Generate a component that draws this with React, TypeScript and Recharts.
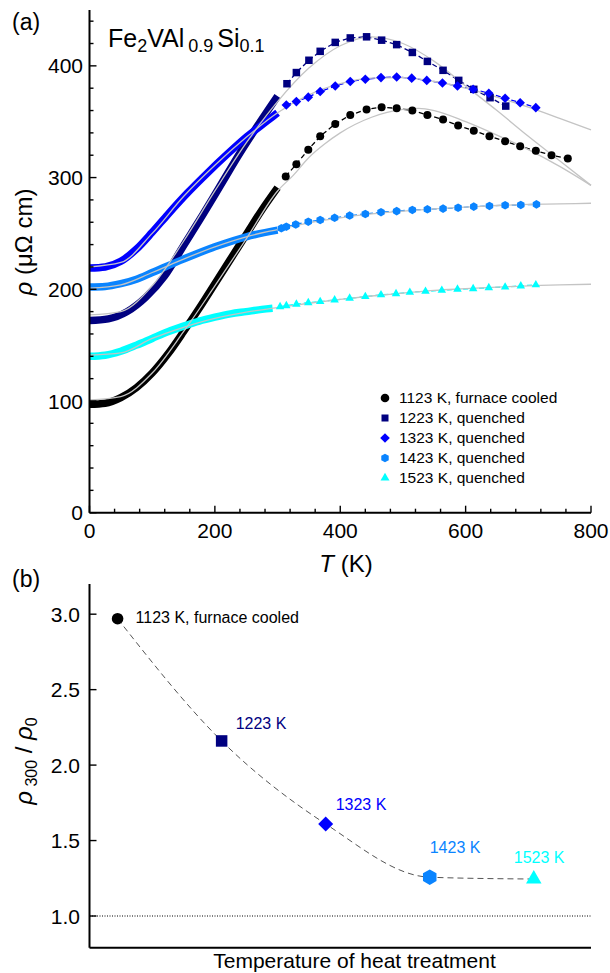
import React from "react";
import { ComposedChart, Line, Scatter, XAxis, YAxis, Legend, ReferenceLine, Label } from "recharts";

// panel (a): dense low-T data (drawn as thick bands), [T (K), rho (µΩ cm)]
const band1123 = [[0, 97], [25, 98], [50, 103], [75, 112], [100, 125], [125, 142], [150, 162], [175, 183], [200, 205], [225, 227], [250, 249], [275, 271], [300, 291]];
const band1223 = [[0, 172], [30, 173.5], [60, 180], [90, 193], [120, 212], [150, 239], [180, 266], [210, 294], [240, 322], [270, 348], [300, 373]];
const band1323 = [[0, 219], [25, 220], [50, 225], [75, 236], [100, 251], [125, 267], [156, 286], [188, 304], [220, 321], [252, 337], [284, 351], [300, 358]];
const band1423 = [[0, 202], [25, 202.5], [50, 205], [75, 209], [100, 215], [150, 227], [200, 238], [250, 247], [300, 253]];
const band1523 = [[0, 140], [25, 141], [50, 144.5], [75, 150], [100, 156], [125, 162], [150, 167], [175, 171.5], [200, 175], [225, 178], [250, 180], [275, 182], [292, 183]];

// high-T points (markers + dashed line)
const pts1123 = [[313, 301], [330, 312], [349, 325], [368, 337], [392, 348], [416, 356], [442, 361], [466, 363], [490, 362], [515, 360], [539, 356], [564, 352], [588, 346.5], [613, 342], [638, 337], [663, 332.5], [687, 328], [712, 324], [737, 320], [763, 317]];
const pts1223 = [[315, 384], [330, 394], [350, 405], [368, 413], [392, 421], [416, 425], [442, 426], [466, 423], [490, 419], [515, 412], [539, 404], [564, 396], [589, 387], [613, 379], [639, 371.5], [664, 364]];
const pts1323 = [[314, 365], [330, 368], [349, 372], [368, 377], [392, 382], [416, 386], [440, 388], [465, 389.5], [490, 390], [514, 389], [538, 387], [563, 384.7], [587, 382], [612, 379], [637, 375.5], [663, 371], [687, 367], [712, 362.6]];
const pts1423 = [[306, 254.6], [314, 256], [329, 258], [349, 260.5], [368, 262], [391, 264], [415, 266], [440, 267.4], [465, 269], [490, 270], [515, 271], [539, 271.6], [564, 272.2], [588, 273], [613, 274], [638, 274.6], [663, 275.2], [688, 275.5], [713, 276]];
const pts1523 = [[304, 184.4], [314, 185.3], [330, 186.6], [349, 188], [368, 189], [391, 190.4], [415, 192], [440, 193.4], [465, 195], [489, 196], [511, 197.3], [536, 198.2], [562, 199], [587, 200], [612, 200.5], [637, 201.4], [663, 202], [688, 203], [712, 204]];

// fitted curves (thin grey)
const fit1123 = [[0, 101], [50, 104], [100, 125], [150, 162], [200, 203], [250, 245], [300, 288], [325, 302], [350, 318], [375, 330], [400, 340], [450, 354], [500, 361], [525, 362], [550, 360], [600, 350], [650, 338], [700, 325], [750, 310], [800, 293]];
const fit1223 = [[0, 177], [50, 180], [100, 203], [150, 243], [200, 288], [250, 331], [300, 368], [350, 398], [400, 418], [450, 426], [500, 420], [550, 404], [600, 382], [650, 360], [700, 337], [750, 315], [800, 293]];
const fit1323 = [[0, 220], [50, 224], [100, 250], [150, 283], [200, 311], [250, 336], [300, 358], [350, 374], [400, 384], [450, 389], [500, 389.5], [550, 386], [600, 380], [650, 372], [700, 363], [750, 353], [800, 342.6]];
const fit1423 = [[0, 201], [50, 204], [100, 215], [150, 227], [200, 238], [250, 247], [300, 253.5], [350, 259.5], [400, 264], [450, 267.5], [500, 270], [550, 272], [600, 273.5], [650, 275], [700, 276], [750, 276.5], [800, 277]];
const fit1523 = [[0, 141], [50, 143], [100, 156], [150, 166], [200, 174], [250, 179.5], [300, 183.5], [350, 187.5], [400, 191], [450, 194], [500, 196.5], [550, 199], [600, 200.5], [650, 202], [700, 203], [750, 204], [800, 204.5]];

const legendLabels = ["1123 K, furnace cooled", "1223 K, quenched", "1323 K, quenched", "1423 K, quenched", "1523 K, quenched"];
const xTicksA = [0, 40, 80, 120, 160, 200, 240, 280, 320, 360, 400, 440, 480, 520, 560, 600, 640, 680, 720, 760, 800];
const yTicksA = [0, 20, 40, 60, 80, 100, 120, 140, 160, 180, 200, 220, 240, 260, 280, 300, 320, 340, 360, 380, 400, 420, 440];

// panel (b)
const heatTemps = [1123, 1223, 1323, 1423, 1523];
const ratio300 = [2.97, 2.16, 1.61, 1.257, 1.245];
const pointLabels = ["1123 K, furnace cooled", "1223 K", "1323 K", "1423 K", "1523 K"];
const yTicksB = [1, 1.5, 2, 2.5, 3];

const colors = ["#000000", "#000080", "#0000ff", "#0a84ff", "#00ffff"];
const shapes = ["circle", "square", "diamond", "hexagon", "triangle"];

const FONT = "'Liberation Sans', Arial, Helvetica, sans-serif";
const PL = 89.5;
const BOT_A = 512.7;
const B_TOP = 574;

const toPts = (a: number[][]) => a.map(([T, r]) => ({ T, r }));
const bands = [band1123, band1223, band1323, band1423, band1523].map(toPts);
const points = [pts1123, pts1223, pts1323, pts1423, pts1523].map(toPts);
const fits = [fit1123, fit1223, fit1323, fit1423, fit1523].map(toPts);
const ratioPts = heatTemps.map((T, i) => ({ T, ratio: ratio300[i] }));

// marker sizes: circle r, square side, diamond half-diag, hexagon r, triangle side
const sizeA = [4, 7.5, 4.8, 4.3, 8.5];
const sizeB = [5.8, 11.5, 7.5, 7.8, 15.5];
const sizeL = [4.3, 7, 4.8, 4.3, 9];

function Marker({ shape, cx, cy, s, color }: any) {
  if (shape === "circle") return <circle cx={cx} cy={cy} r={s} fill={color} />;
  if (shape === "square") return <rect x={cx - s / 2} y={cy - s / 2} width={s} height={s} fill={color} />;
  if (shape === "diamond")
    return <polygon points={`${cx},${cy - s} ${cx + s},${cy} ${cx},${cy + s} ${cx - s},${cy}`} fill={color} />;
  if (shape === "hexagon") {
    const p = [-90, -30, 30, 90, 150, 210]
      .map((a) => `${cx + s * Math.cos((a * Math.PI) / 180)},${cy + s * Math.sin((a * Math.PI) / 180)}`)
      .join(" ");
    return <polygon points={p} fill={color} />;
  }
  const h = (s * Math.sqrt(3)) / 2;
  return <polygon points={`${cx},${cy - (2 * h) / 3} ${cx + s / 2},${cy + h / 3} ${cx - s / 2},${cy + h / 3}`} fill={color} />;
}

const XTickA = (p: any) => {
  const v = p.payload.value;
  const major = v % 200 === 0;
  return (
    <g>
      <line x1={p.x} x2={p.x} y1={BOT_A} y2={BOT_A - (major ? 7 : 4)} stroke="#000" strokeWidth={1.4} />
      {major && (
        <text x={p.x} y={BOT_A + 25.5} textAnchor="middle" fontSize={21} fontFamily={FONT} fill="#000">
          {v}
        </text>
      )}
    </g>
  );
};

const YTickA = (p: any) => {
  const v = p.payload.value;
  const major = v % 100 === 0;
  return (
    <g>
      <line x1={PL} x2={PL + (major ? 7 : 4)} y1={p.y} y2={p.y} stroke="#000" strokeWidth={1.4} />
      {major && (
        <text x={83} y={p.y} dy="0.36em" textAnchor="end" fontSize={21} fontFamily={FONT} fill="#000">
          {v}
        </text>
      )}
    </g>
  );
};

const YTickB = (p: any) => (
  <g>
    <line x1={PL} x2={PL + 7} y1={p.y} y2={p.y} stroke="#000" strokeWidth={1.4} />
    <text x={80} y={p.y} dy="0.36em" textAnchor="end" fontSize={21} fontFamily={FONT} fill="#000">
      {p.payload.value.toFixed(1)}
    </text>
  </g>
);

const axisLine = { stroke: "#000", strokeWidth: 2 };

const labelOffsets = [
  [18, -1],
  [14, -18],
  [10, -20],
  [0, -30],
  [-20, -22],
];

const renderPointB = (p: any) => {
  const i = p.index;
  return (
    <g key={`pb-${i}`}>
      <Marker shape={shapes[i]} cx={p.cx} cy={p.cy} s={sizeB[i]} color={colors[i]} />
      <text
        x={p.cx + labelOffsets[i][0]}
        y={p.cy + labelOffsets[i][1]}
        dy="0.35em"
        fontSize={16}
        fontFamily={FONT}
        fill={i === 0 ? "#000" : colors[i]}
      >
        {pointLabels[i]}
      </text>
    </g>
  );
};

const LegendBox = () => (
  <div style={{ fontFamily: FONT, fontSize: 15.5, color: "#000" }}>
    {legendLabels.map((lab, i) => (
      <div key={lab} style={{ display: "flex", alignItems: "center", height: 20 }}>
        <svg width={16} height={16}>
          <Marker shape={shapes[i]} cx={8} cy={8} s={sizeL[i]} color={colors[i]} />
        </svg>
        <span style={{ marginLeft: 6, whiteSpace: "nowrap" }}>{lab}</span>
      </div>
    ))}
  </div>
);

export default function App() {
  return (
    <div style={{ position: "absolute", left: 0, top: 0, width: 610, height: 973, background: "#fff", fontFamily: FONT }}>
      <div style={{ position: "absolute", left: 0, top: 0 }}>
        <ComposedChart width={610} height={580} margin={{ top: 10, right: 19, bottom: 0, left: 0 }}>
          <XAxis
            xAxisId="b"
            dataKey="T"
            type="number"
            domain={[0, 800]}
            ticks={xTicksA}
            interval={0}
            tick={(p: any) => <XTickA {...p} />}
            tickLine={false}
            axisLine={axisLine}
            height={67.3}
          >
            <Label
              content={() => (
                <text x={346} y={572} textAnchor="middle" fontSize={24} fontFamily={FONT} fill="#000">
                  <tspan fontStyle="italic">T</tspan> (K)
                </text>
              )}
            />
          </XAxis>
          <XAxis xAxisId="t" orientation="top" type="number" domain={[0, 800]} height={0} tick={false} tickLine={false} axisLine={axisLine} />
          <YAxis
            yAxisId="l"
            type="number"
            domain={[0, 450]}
            ticks={yTicksA}
            interval={0}
            width={PL}
            tick={(p: any) => <YTickA {...p} />}
            tickLine={false}
            axisLine={axisLine}
          >
            <Label
              content={() => (
                <text transform="translate(32,242) rotate(-90)" textAnchor="middle" fontSize={24} fontFamily={FONT} fill="#000">
                  <tspan fontStyle="italic">ρ</tspan> (μΩ cm)
                </text>
              )}
            />
          </YAxis>
          <YAxis yAxisId="r" orientation="right" type="number" domain={[0, 450]} width={0} tick={false} tickLine={false} axisLine={axisLine} />

          {bands.map((d, i) => (
            <Line
              key={`band-${i}`}
              xAxisId="b"
              yAxisId="l"
              data={d}
              dataKey="r"
              type="monotone"
              stroke={colors[i]}
              strokeWidth={7.5}
              dot={false}
              activeDot={false}
              isAnimationActive={false}
            />
          ))}
          {points.map((d, i) => (
            <Line
              key={`pts-${i}`}
              xAxisId="b"
              yAxisId="l"
              data={d}
              dataKey="r"
              type="linear"
              stroke={colors[i]}
              strokeWidth={1.3}
              strokeDasharray="5 3"
              dot={(p: any) => <Marker key={`m${i}-${p.index}`} shape={shapes[i]} cx={p.cx} cy={p.cy} s={sizeA[i]} color={colors[i]} />}
              activeDot={false}
              isAnimationActive={false}
            />
          ))}
          {fits.map((d, i) => (
            <Line
              key={`fit-${i}`}
              xAxisId="b"
              yAxisId="l"
              data={d}
              dataKey="r"
              type="monotone"
              stroke="#c4c4c4"
              strokeWidth={1.3}
              dot={false}
              activeDot={false}
              isAnimationActive={false}
            />
          ))}
          <Legend
            layout="vertical"
            align="center"
            verticalAlign="middle"
            content={() => <LegendBox />}
            wrapperStyle={{ position: "absolute", left: 377, top: 388, width: 220, height: 100 }}
          />
        </ComposedChart>
      </div>

      <div style={{ position: "absolute", left: 0, top: B_TOP }}>
        <ComposedChart width={610} height={399} margin={{ top: 10, right: 19, bottom: 0, left: 0 }}>
          <XAxis xAxisId="b" dataKey="T" type="number" domain={[1096, 1578]} tick={false} tickLine={false} axisLine={axisLine} height={25.3}>
            <Label
              content={() => (
                <text x={354.5} y={968.3 - B_TOP} textAnchor="middle" fontSize={21} fontFamily={FONT} fill="#000">
                  Temperature of heat treatment
                </text>
              )}
            />
          </XAxis>
          <XAxis xAxisId="t" orientation="top" type="number" domain={[1096, 1578]} height={0} tick={false} tickLine={false} axisLine={axisLine} />
          <YAxis
            yAxisId="l"
            type="number"
            domain={[0.79, 3.2]}
            ticks={yTicksB}
            interval={0}
            width={PL}
            tick={(p: any) => <YTickB {...p} />}
            tickLine={false}
            axisLine={axisLine}
          >
            <Label
              content={() => (
                <text transform={`translate(32,${761 - B_TOP}) rotate(-90)`} textAnchor="middle" fontSize={24} fontFamily={FONT} fill="#000">
                  <tspan fontStyle="italic">ρ</tspan>
                  <tspan fontSize={16} dy={5}> 300</tspan>
                  <tspan dy={-5}> / </tspan>
                  <tspan fontStyle="italic">ρ</tspan>
                  <tspan fontSize={16} dy={5}>0</tspan>
                </text>
              )}
            />
          </YAxis>
          <YAxis yAxisId="r" orientation="right" type="number" domain={[0.79, 3.2]} width={0} tick={false} tickLine={false} axisLine={axisLine} />
          <ReferenceLine xAxisId="b" yAxisId="l" y={1} stroke="#000" strokeWidth={1} strokeDasharray="1 1.5" />
          <Line
            xAxisId="b"
            yAxisId="l"
            data={ratioPts}
            dataKey="ratio"
            type="monotone"
            stroke="#555"
            strokeWidth={1}
            strokeDasharray="6 4"
            dot={false}
            activeDot={false}
            isAnimationActive={false}
          />
          <Scatter xAxisId="b" yAxisId="l" data={ratioPts} dataKey="ratio" shape={renderPointB} isAnimationActive={false} />
        </ComposedChart>
      </div>

      <svg width={610} height={973} style={{ position: "absolute", left: 0, top: 0, pointerEvents: "none" }}>
        <text x={12} y={30} fontSize={23} fontFamily={FONT} fill="#000">(a)</text>
        <text x={12} y={587} fontSize={23} fontFamily={FONT} fill="#000">(b)</text>
        <text x={108} y={46.7} fontSize={25} fontFamily={FONT} fill="#000">
          Fe<tspan fontSize={18} dy={5}>2</tspan>
          <tspan dy={-5}>VAl</tspan>
          <tspan fontSize={18} dy={5} dx={4}>0.9</tspan>
          <tspan dy={-5} dx={4}>Si</tspan>
          <tspan fontSize={18} dy={5}>0.1</tspan>
        </text>
      </svg>
    </div>
  );
}
